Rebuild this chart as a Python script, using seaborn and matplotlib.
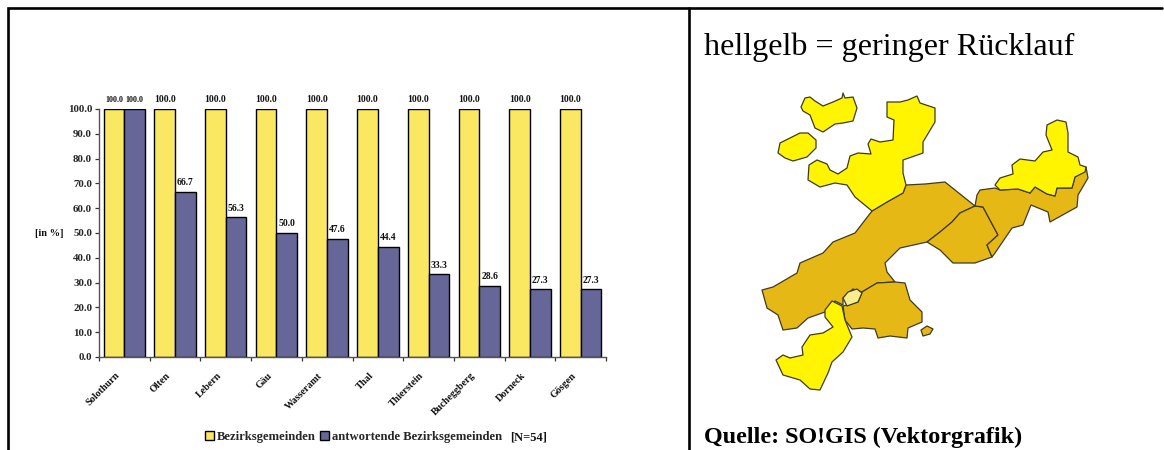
import matplotlib
matplotlib.use("Agg")
import matplotlib.pyplot as plt
from matplotlib.patches import Polygon
import pandas as pd
import seaborn as sns

districts = ["Solothurn", "Olten", "Lebern", "Gäu", "Wasseramt", "Thal",
             "Thierstein", "Bucheggberg", "Dorneck", "Gösgen"]
all_municipalities = [100.0] * 10
responding = [100.0, 66.7, 56.3, 50.0, 47.6, 44.4, 33.3, 28.6, 27.3, 27.3]
y_ticks = [0, 10, 20, 30, 40, 50, 60, 70, 80, 90, 100]
series_names = ["Bezirksgemeinden", "antwortende Bezirksgemeinden"]
bar_colors = ["#FAE762", "#666699"]

# Outlines of the map regions, in map units
dark_west = [(762,290),(773,287),(797,273),(800,263),(823,253),(833,242),(855,233),(872,211),
             (887,202),(903,193),(906,185),(925,184),(945,182),(960,194),(975,206),(960,213),
             (952,222),(940,232),(927,242),(900,248),(885,263),(887,272),(895,282),(877,283),
             (862,292),(853,289),(843,298),(843,305),(835,301),(825,312),(808,318),(797,328),
             (783,330),(778,315),(767,308)]
dark_center = [(975,206),(983,207),(998,235),(987,245),(992,257),(975,263),(962,263),(953,263),
               (940,250),(927,242),(940,232),(952,222),(960,213)]
dark_east = [(980,190),(995,188),(1000,190),(1018,189),(1030,193),(1035,187),(1047,194),(1055,196),
             (1057,188),(1072,188),(1075,177),(1086,167),(1088,178),(1078,195),(1077,207),(1050,222),
             (1048,212),(1031,205),(1023,225),(1012,228),(995,253),(992,257),(987,245),(998,235),
             (983,207),(975,206),(977,195)]
dark_south = [(862,292),(877,283),(895,282),(905,283),(910,300),(922,312),(922,322),(908,328),
              (907,338),(890,336),(878,338),(875,329),(863,328),(852,329),(845,320),(843,306),(858,302)]
dark_islet = [(921,330),(927,326),(933,329),(930,334),(923,336)]
pale_city = [(843,298),(848,292),(857,289),(862,293),(858,302),(847,306)]
yellow_north = [(801,107),(805,98),(810,97),(815,101),(823,106),(833,102),(842,98),(843,93),(845,98),
                (853,97),(857,108),(853,121),(843,123),(835,124),(823,132),(815,128),(810,115),(803,111)]
yellow_exclave = [(780,143),(790,138),(800,133),(808,133),(816,140),(816,148),(807,157),(793,161),
                  (785,158),(778,153)]
yellow_central = [(809,165),(817,160),(827,164),(830,170),(838,174),(847,168),(850,156),(858,153),
                  (871,154),(868,144),(871,139),(880,142),(893,140),(894,120),(887,117),(887,102),
                  (900,102),(908,100),(917,96),(920,103),(935,108),(935,122),(923,142),(923,153),
                  (903,160),(903,173),(906,185),(903,193),(887,202),(872,211),(855,197),(847,185),
                  (835,183),(820,187),(808,180)]
yellow_east = [(995,185),(1000,178),(1013,174),(1012,165),(1020,159),(1035,161),(1043,152),(1052,150),
               (1046,135),(1047,125),(1057,120),(1066,122),(1068,133),(1068,152),(1078,157),(1080,165),
               (1086,167),(1085,172),(1075,177),(1072,188),(1057,188),(1055,196),(1047,194),(1035,187),
               (1030,193),(1018,189),(1000,190)]
yellow_south = [(832,301),(842,306),(845,320),(852,337),(843,352),(832,362),(828,373),(820,390),
                (810,389),(800,380),(783,375),(776,360),(783,355),(790,358),(803,355),(802,347),
                (810,335),(823,333),(833,327),(825,317),(825,310)]

W, H = 1164, 450
sns.set_theme(style="white", rc={"font.family": ["Liberation Serif", "DejaVu Serif"]})
fig = plt.figure(figsize=(W / 100, H / 100), dpi=100, facecolor="white")


def axes_box(left, top, right, bottom):
    return [left / W, 1 - bottom / H, (right - left) / W, (bottom - top) / H]


# Table rules around the two panels
frame = fig.add_axes([0, 0, 1, 1], zorder=0)
frame.set_xlim(0, W)
frame.set_ylim(H, 0)
frame.axis("off")
frame.plot([8, 8, 1162], [H, 8, 8], color="black", lw=1.9, solid_joinstyle="miter")
frame.plot([689, 689], [8, H], color="black", lw=1.9)

# Map panel
map_colors = {"#E5B815": [dark_west, dark_center, dark_east, dark_south, dark_islet],
              "#FFF500": [yellow_north, yellow_exclave, yellow_central, yellow_east, yellow_south],
              "#F8EE8E": [pale_city]}
for color, shapes in map_colors.items():
    for shape in shapes:
        frame.add_patch(Polygon(shape, closed=True, facecolor=color, edgecolor="#3F3A22", lw=0.9,
                                joinstyle="round"))
frame.text(704, 55, "hellgelb = geringer Rücklauf", fontsize=23.1, va="baseline", ha="left", color="black")
frame.text(704, 443, "Quelle: SO!GIS (Vektorgrafik)", fontsize=17.4, fontweight="bold",
           va="baseline", ha="left", color="black")

# Bar chart panel
table = pd.DataFrame({"Bezirk": districts * 2,
                      "Anteil": all_municipalities + responding,
                      "Reihe": [series_names[0]] * 10 + [series_names[1]] * 10})
ax = fig.add_axes(axes_box(99, 109, 606, 357), zorder=1)
ax.patch.set_alpha(0)
sns.barplot(data=table, x="Bezirk", y="Anteil", hue="Reihe", order=districts, hue_order=series_names,
            palette=bar_colors, width=0.815, gap=0, saturation=1, edgecolor="black", linewidth=1.0,
            ax=ax, legend=True)
ax.set_xlim(-0.5, 9.5)
ax.set_ylim(0, 100)
ax.set_xlabel("")
ax.set_ylabel("")
for side in ("top", "right"):
    ax.spines[side].set_visible(False)
for side in ("left", "bottom"):
    ax.spines[side].set_color("#555555")
    ax.spines[side].set_linewidth(1.0)
    ax.spines[side].set_clip_on(False)
ax.set_yticks(y_ticks, [f"{v:.1f}" for v in y_ticks])
ax.set_xticks([i - 0.5 for i in range(11)], minor=False, labels=[""] * 11)
ax.tick_params(axis="both", which="major", length=3, width=0.9, color="#333333", left=True, bottom=True)
ax.tick_params(axis="y", labelsize=7.8, pad=2)
for lab in ax.get_yticklabels():
    lab.set_fontweight("bold")
for i, name in enumerate(districts):
    ax.annotate(name, (i, 0), xycoords=("data", "data"), xytext=(-6.5, -10), textcoords="offset points",
                rotation=45, rotation_mode="anchor", ha="right", va="top", fontsize=7.2,
                fontweight="bold", color="#111111", annotation_clip=False)

# Value labels above each bar; the first pair shares less room and is set smaller
for s, container in enumerate(ax.containers):
    values = all_municipalities if s == 0 else responding
    for i, (bar, value) in enumerate(zip(container, values)):
        if s == 0 or i == 0 or value < 100:
            size = 5.8 if i == 0 else 6.9
            ax.annotate(f"{value:.1f}", (bar.get_x() + bar.get_width() / 2, value), xytext=(0, 3.4),
                        textcoords="offset points", ha="center", va="bottom", fontsize=size,
                        fontweight="bold", color="#111111", annotation_clip=False)

frame.text(49, 233, "[in %]", fontsize=7.5, fontweight="bold", ha="center", va="center", color="#111111")

handles, labels = ax.get_legend_handles_labels()
ax.legend(handles, labels, ncol=2, frameon=False, loc="center left",
          bbox_to_anchor=(205 / W, 1 - 437 / H), bbox_transform=fig.transFigure,
          prop={"weight": "bold", "size": 9.1}, handlelength=0.72, handleheight=0.72,
          handletextpad=0.25, columnspacing=0.3, borderpad=0, borderaxespad=0)
frame.text(510, 437, "[N=54]", fontsize=9, fontweight="bold", ha="left", va="center", color="#111111")

fig.savefig("out.png", dpi=100)
